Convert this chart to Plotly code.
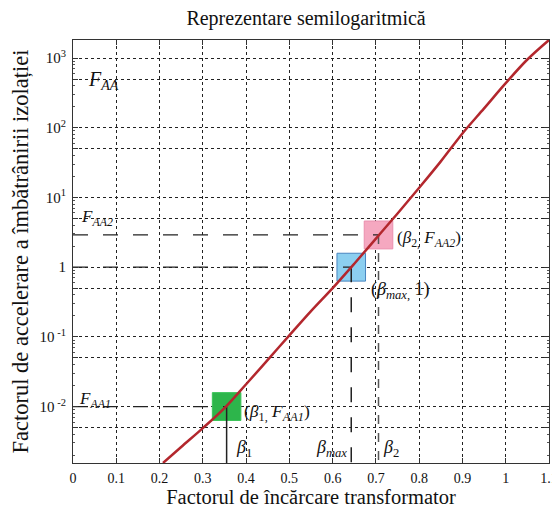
import math
import plotly.graph_objects as go

# ---- data ----
load_factor = [0.208, 0.25, 0.30, 0.35, 0.40, 0.45, 0.50, 0.55, 0.60, 0.65,
               0.70, 0.75, 0.80, 0.85, 0.90, 0.95, 1.00, 1.05, 1.10]
aging_factor = [0.00155, 0.00263, 0.0049, 0.0095, 0.0209, 0.0468, 0.105, 0.234, 0.50, 1.12,
                2.57, 5.9, 13.8, 33, 83, 190, 437, 955, 1820]

key_beta = [0.355, 0.643, 0.706]          # beta_1, beta_max, beta_2
key_faa = [0.01, 1.0, 2.9]                # F_AA1, 1, F_AA2

x_tick_vals = [0, 0.1, 0.2, 0.3, 0.4, 0.5, 0.6, 0.7, 0.8, 0.9, 1.0, 1.1]
x_tick_text = ["0", "0.1", "0.2", "0.3", "0.4", "0.5", "0.6", "0.7", "0.8", "0.9", "1", "1.1"]
y_tick_vals = [0.005, 0.01, 0.05, 0.1, 0.5, 1, 5, 10, 50, 100, 500, 1000]
y_tick_text = ["", "10<sup> -2</sup>", "", "10<sup> -1</sup>", "", "1", "", "10<sup>1</sup>",
               "", "10<sup>2</sup>", "", "10<sup>3</sup>"]
y_minor_vals = [m * 10 ** e for e in range(-3, 4) for m in (2, 3, 4, 6, 7, 8, 9)]

# ---- style ----
FONT = "Liberation Serif"
Y_RANGE_LOG = [-2.81, 3.26]
X_RANGE = [0, 1.1]
SQ_HALF_X = 0.033
SQ_HALF_LOG = 0.2
sq_fill = ["#2db54b", "#8ccff0", "#f5a8c0"]
sq_line = ["#3cc45a", "#4a86c0", "#ea8fae"]
h_dash = ["longdash", "longdash", "longdash"]
v_dash = ["solid", "longdash", "dash"]
v_color = ["#222222", "#222222", "#555555"]

fig = go.Figure()

y_bottom = 10 ** Y_RANGE_LOG[0]

# squares around key points
for b, f, fc, lc in zip(key_beta, key_faa, sq_fill, sq_line):
    lo, hi = f * 10 ** (-SQ_HALF_LOG), f * 10 ** SQ_HALF_LOG
    fig.add_trace(go.Scatter(
        x=[b - SQ_HALF_X, b + SQ_HALF_X, b + SQ_HALF_X, b - SQ_HALF_X, b - SQ_HALF_X],
        y=[lo, lo, hi, hi, lo], mode="lines", fill="toself", fillcolor=fc,
        line=dict(color=lc, width=1), hoverinfo="skip", showlegend=False))

# guide lines
for i, (b, f) in enumerate(zip(key_beta, key_faa)):
    fig.add_trace(go.Scatter(x=[0, b], y=[f, f], mode="lines",
                             line=dict(color="#222222", width=1.3, dash=h_dash[i]),
                             hoverinfo="skip", showlegend=False))
    fig.add_trace(go.Scatter(x=[b, b], y=[f, y_bottom], mode="lines",
                             line=dict(color=v_color[i], width=1.5, dash=v_dash[i]),
                             hoverinfo="skip", showlegend=False))

# main curve
fig.add_trace(go.Scatter(x=load_factor, y=aging_factor, mode="lines",
                         line=dict(color="#b3272d", width=2.5, shape="spline", smoothing=1.0),
                         showlegend=False))

L = math.log10
ann = [
    (0.030, L(480), "<i>F</i><sub><i>AA</i></sub>", "left", 20),
    (0.014, L(5.0), "<i>F</i><sub><i>AA2</i></sub>", "left", 17),
    (0.010, L(0.0125), "<i>F</i><sub><i>AA1</i></sub>", "left", 17),
    (0.745, L(2.5), "(<i>β</i><sub>2,</sub> <i>F</i><sub><i>AA2</i></sub>)", "left", 17),
    (0.684, L(0.46), "(<i>β</i><sub><i>max</i>,</sub> 1)", "left", 18),
    (0.390, L(0.0082), "(<i>β</i><sub>1,</sub> <i>F</i><sub><i>AA1</i></sub>)", "left", 17.5),
    (0.372, L(0.0025), "<i>β</i><sub>1</sub>", "left", 18),
    (0.638, L(0.0025), "<i>β</i><sub><i>max</i></sub>", "right", 18),
    (0.712, L(0.0025), "<i>β</i><sub>2</sub>", "left", 18),
]
for x, y, t, xa, sz in ann:
    fig.add_annotation(x=x, y=y, xref="x", yref="y", text=t, showarrow=False,
                       xanchor=xa, yanchor="middle",
                       font=dict(family=FONT, size=sz, color="#111111"))

axis_common = dict(showline=True, linecolor="#333333", linewidth=1.2, mirror="ticks",
                   ticks="inside", tickcolor="#333333", ticklen=5, automargin=False,
                   showgrid=True, gridcolor="#222222", griddash="dot", gridwidth=1,
                   zeroline=False)

# the page body keeps its default 8px margin, so the figure is sized to fit the window
W, H = 552, 502
fig.update_layout(
    width=W, height=H,
    margin=dict(l=65, r=11, t=32, b=47),
    paper_bgcolor="white", plot_bgcolor="white",
    title=dict(text="Reprezentare semilogaritmică", x=0.54, xref="container",
               xanchor="center", y=1 - 3 / H, yref="container", yanchor="top",
               pad=dict(t=0, b=0, l=0, r=0),
               font=dict(family=FONT, size=20, color="#111111")),
    xaxis=dict(range=X_RANGE, tickmode="array", tickvals=x_tick_vals, ticktext=x_tick_text,
               ticklabelstandoff=2,
               tickfont=dict(family=FONT, size=14, color="#111111"),
               title=dict(text="Factorul de încărcare transformator", standoff=0,
                          font=dict(family=FONT, size=20.5, color="#111111")),
               **axis_common),
    yaxis=dict(type="log", range=Y_RANGE_LOG, tickmode="array", tickvals=y_tick_vals,
               ticktext=y_tick_text, ticklabelstandoff=3,
               tickfont=dict(family=FONT, size=15, color="#111111"),
               minor=dict(tickvals=y_minor_vals, ticks="inside", ticklen=2,
                          tickcolor="#555555", showgrid=False),
               title=dict(text="Factorul de accelerare a îmbătrânirii izolației", standoff=18,
                          font=dict(family=FONT, size=22.5, color="#111111")),
               **axis_common),
)

fig.write_html("out.html")
